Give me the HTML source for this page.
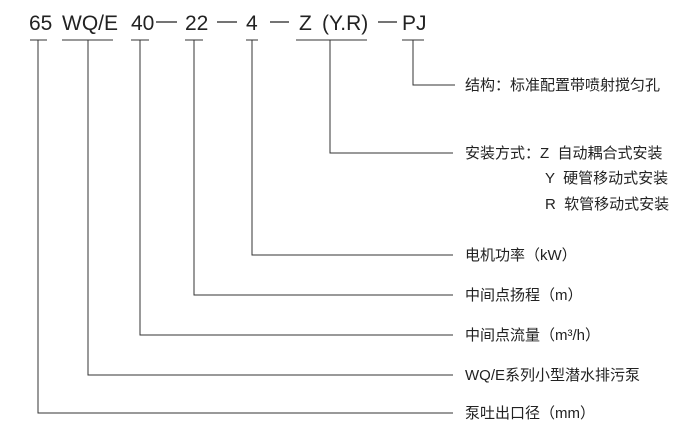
<!DOCTYPE html>
<html><head><meta charset="utf-8"><style>
body{margin:0;background:#fff;}
svg text{font-family:"Liberation Sans","Noto Sans CJK SC",sans-serif;fill:#222;white-space:pre;}
</style></head><body>
<svg width="700" height="439" xmlns="http://www.w3.org/2000/svg">
<g font-size="21">
<text x="29" y="30">65</text>
<text x="62" y="30">WQ/E</text>
<text x="131" y="30">40</text>
<text x="185" y="30">22</text>
<text x="246" y="30">4</text>
<text x="299" y="30">Z</text>
<text x="322" y="30">(Y.R)</text>
<text x="402" y="30">PJ</text>
</g>
<g stroke="#222" stroke-width="1.3">
<line x1="156" y1="22" x2="177" y2="22"/>
<line x1="217" y1="22" x2="237" y2="22"/>
<line x1="270" y1="22" x2="289" y2="22"/>
<line x1="378" y1="22" x2="397" y2="22"/>
</g>
<g stroke="#333" stroke-width="1" fill="none">
<line x1="30" y1="40" x2="47" y2="40"/>
<line x1="62" y1="40" x2="113" y2="40"/>
<line x1="131" y1="40" x2="149" y2="40"/>
<line x1="185" y1="40" x2="203" y2="40"/>
<line x1="246" y1="40" x2="258" y2="40"/>
<line x1="296" y1="40" x2="367" y2="40"/>
<line x1="402" y1="40" x2="424" y2="40"/>
<polyline points="413,40 413,85 455,85"/>
<polyline points="330,40 330,153 453,153"/>
<polyline points="252,40 252,255 453,255"/>
<polyline points="194,40 194,295 453,295"/>
<polyline points="140,40 140,335 453,335"/>
<polyline points="88,40 88,375 453,375"/>
<polyline points="38,40 38,413 453,413"/>
</g>
<g font-size="15">
<text x="465" y="90">结构：标准配置带喷射搅匀孔</text>
<text x="465" y="158">安装方式：Z  自动耦合式安装</text>
<text x="545" y="183">Y  硬管移动式安装</text>
<text x="545" y="209">R  软管移动式安装</text>
<text x="465" y="260">电机功率（kW）</text>
<text x="465" y="300">中间点扬程（m）</text>
<text x="465" y="340">中间点流量（m³/h）</text>
<text x="465" y="380">WQ/E系列小型潜水排污泵</text>
<text x="465" y="418">泵吐出口径（mm）</text>
</g>
</svg>
</body></html>
